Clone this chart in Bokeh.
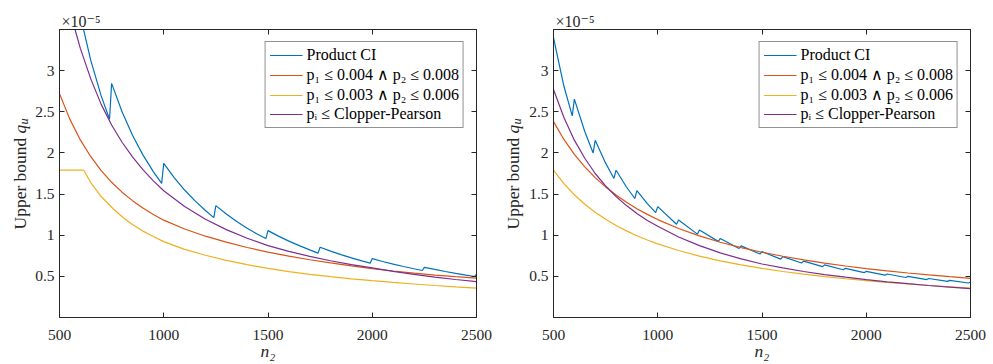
import math
from bokeh.plotting import figure
from bokeh.models import (Range1d, LinearAxis, FixedTicker, CustomJSTickFormatter,
                          Label, Legend, LegendItem, Title)
from bokeh.layouts import row, column
from bokeh.embed import file_html
from bokeh.resources import INLINE

# ---------------- data (upper bound q_u, in units of 1e-5) ----------------
N_GRID = [500, 550, 600, 650, 700, 750, 800, 850, 900, 950, 1000,
          1100, 1200, 1300, 1400, 1500, 1600, 1700, 1800, 1900, 2000,
          2100, 2200, 2300, 2400, 2500]

# Left panel
L_PROD_N = [600, 650, 700, 740, 750, 800, 850, 900, 950, 990,
            1000, 1050, 1100, 1150, 1200, 1240, 1250, 1300, 1350, 1400, 1450, 1490,
            1500, 1550, 1600, 1650, 1700, 1740, 1750, 1800, 1850, 1900, 1950, 1990,
            2000, 2050, 2100, 2150, 2200, 2240, 2250, 2300, 2350, 2400, 2450, 2490, 2500]
L_PROD_Q = [3.666, 3.124, 2.693, 2.41, 2.845, 2.50, 2.215, 1.976, 1.773, 1.63,
            1.874, 1.70, 1.549, 1.417, 1.301, 1.214, 1.36, 1.257, 1.166, 1.084, 1.011, 0.959,
            1.056, 0.989, 0.928, 0.873, 0.822, 0.782, 0.854, 0.807, 0.764, 0.724, 0.688, 0.66,
            0.716, 0.681, 0.649, 0.62, 0.592, 0.571, 0.61, 0.584, 0.559, 0.536, 0.514, 0.498, 0.527]
L_RED_Q = [2.72, 2.408, 2.158, 1.954, 1.785, 1.643, 1.523, 1.42, 1.33, 1.252, 1.183,
           1.075, 0.988, 0.916, 0.851, 0.794, 0.745, 0.702, 0.663, 0.627, 0.594,
           0.565, 0.539, 0.516, 0.496, 0.478]
L_YEL_N = [500, 616, 650, 700, 750, 800, 850, 900, 950, 1000,
           1100, 1200, 1300, 1400, 1500, 1600, 1700, 1800, 1900, 2000,
           2100, 2200, 2300, 2400, 2500]
L_YEL_Q = [1.79, 1.79, 1.64, 1.47, 1.34, 1.225, 1.13, 1.05, 0.985, 0.922,
           0.828, 0.757, 0.695, 0.642, 0.596, 0.558, 0.525, 0.496, 0.47, 0.447,
           0.426, 0.407, 0.389, 0.373, 0.358]
L_PUR_Q = [4.29, 3.72, 3.27, 2.90, 2.59, 2.34, 2.13, 1.951, 1.796, 1.66, 1.541,
           1.349, 1.194, 1.068, 0.963, 0.874, 0.804, 0.743, 0.69, 0.643, 0.602,
           0.561, 0.524, 0.491, 0.462, 0.435]

# Right panel
R_PROD_N = [500, 550, 590, 600, 650, 690, 700, 750, 790, 800, 850, 890, 900, 950, 990,
            1000, 1090, 1100, 1190, 1200, 1290, 1300, 1390, 1400, 1490, 1500, 1590,
            1600, 1690, 1700, 1790, 1800, 1890, 1900, 1990, 2000, 2090, 2100, 2190,
            2200, 2290, 2300, 2390, 2400, 2490, 2500]
R_PROD_Q = [3.40, 2.81, 2.45, 2.654, 2.261, 2.0, 2.153, 1.876, 1.69, 1.79, 1.586, 1.446,
            1.541, 1.383, 1.274, 1.347, 1.134, 1.186, 1.013, 1.064, 0.925, 0.959, 0.839,
            0.870, 0.771, 0.801, 0.709, 0.739, 0.662, 0.685, 0.618, 0.639, 0.58, 0.598,
            0.545, 0.561, 0.514, 0.529, 0.486, 0.4995, 0.461, 0.474, 0.439, 0.451, 0.419, 0.432]
R_RED_Q = [2.38, 2.164, 1.983, 1.831, 1.70, 1.587, 1.488, 1.40, 1.322, 1.253, 1.19,
           1.082, 0.992, 0.915, 0.85, 0.793, 0.744, 0.70, 0.661, 0.626, 0.595,
           0.567, 0.541, 0.517, 0.496, 0.476]
R_YEL_Q = [1.79, 1.627, 1.492, 1.377, 1.279, 1.193, 1.119, 1.053, 0.994, 0.942, 0.895,
           0.814, 0.746, 0.688, 0.639, 0.597, 0.559, 0.526, 0.497, 0.471, 0.448,
           0.426, 0.407, 0.389, 0.373, 0.358]
R_PUR_Q = [2.77, 2.43, 2.155, 1.935, 1.75, 1.60, 1.47, 1.36, 1.265, 1.18, 1.11,
           0.979, 0.873, 0.785, 0.712, 0.65, 0.602, 0.559, 0.522, 0.49, 0.46,
           0.434, 0.411, 0.389, 0.37, 0.352]

X_TICKS = [500, 1000, 1500, 2000, 2500]
Y_TICKS = [0.5, 1, 1.5, 2, 2.5, 3]
EXPONENT_TEXT = "\u00d710\u207b\u2075"
SERIES_NAMES = ["Product CI",
                "p\u2081 \u2264 0.004 \u2227 p\u2082 \u2264 0.008",
                "p\u2081 \u2264 0.003 \u2227 p\u2082 \u2264 0.006",
                "p\u1d62 \u2264 Clopper-Pearson"]
COLORS = ["#0072BD", "#D95319", "#EDB120", "#7E2F8E"]

# ---------------- styling ----------------
SERIF = "Liberation Serif, DejaVu Serif"
AX = "#262626"
FRAME_W, FRAME_H = 418, 288
TOP = 29            # above the frame (exponent title)
BOTTOM = 47         # below the frame (tick labels + n2)
TICK_BORDER = 26    # room for y tick labels left of the frame


def style_axis(ax, show_labels, standoff):
    ax.axis_line_color = AX
    ax.major_tick_line_color = AX
    ax.major_tick_in = 5
    ax.major_tick_out = 0
    ax.minor_tick_line_color = None
    if show_labels:
        ax.major_label_text_font = SERIF
        ax.major_label_text_font_size = "15.5px"
        ax.major_label_text_color = AX
        ax.major_label_standoff = standoff
    else:
        ax.formatter = CustomJSTickFormatter(code="return '';")
        ax.major_label_text_font_size = "0px"
        ax.major_label_standoff = 0


def strip(width, height):
    s = figure(width=width, height=height, x_range=Range1d(0, 1), y_range=Range1d(0, 1),
               output_backend="svg", toolbar_location=None, title=None,
               x_axis_location=None, y_axis_location=None, min_border=0,
               min_border_left=0, min_border_right=0,
               min_border_top=0, min_border_bottom=0)
    s.outline_line_color = None
    s.grid.visible = False
    s.background_fill_color = "white"
    s.border_fill_color = "white"
    return s


def lab(p, text, x, y, size, style="normal", angle=0.0, color=AX):
    p.add_layout(Label(x=x, y=y, x_units="screen", y_units="screen", text=text,
                       text_font=SERIF, text_font_size=size, text_font_style=style,
                       text_color=color, angle=angle, text_align="left",
                       text_baseline="alphabetic"))


def make_panel(series, ylab_w, right):
    main_w = TICK_BORDER + FRAME_W + right
    p = figure(width=main_w, height=TOP + FRAME_H + BOTTOM,
               x_range=Range1d(500, 2500), y_range=Range1d(0, 3.5),
               output_backend="svg", toolbar_location=None, title=None,
               x_axis_location=None, y_axis_location=None,
               min_border_left=TICK_BORDER, min_border_right=right,
               min_border_top=TOP, min_border_bottom=BOTTOM)
    p.grid.visible = False
    p.outline_line_color = AX
    p.background_fill_color = "white"
    p.border_fill_color = "white"

    fmt = CustomJSTickFormatter(code="return tick.toString();")
    axes = {}
    for loc, ticks, show, so in [("below", X_TICKS, True, 12), ("above", X_TICKS, False, 0),
                                 ("left", Y_TICKS, True, 5), ("right", Y_TICKS, False, 0)]:
        ax = LinearAxis(ticker=FixedTicker(ticks=ticks), formatter=fmt)
        style_axis(ax, show, so)
        p.add_layout(ax, loc)
        axes[loc] = ax

    # exponent marker above the frame, left aligned
    p.add_layout(Title(text=EXPONENT_TEXT, align="left", offset=2, standoff=0,
                       text_font=SERIF, text_font_size="16px", text_font_style="normal",
                       text_color=AX), "above")

    # x axis title: n_2
    xb = axes["below"]
    xb.axis_label = "n\u2082"
    xb.axis_label_text_font = SERIF
    xb.axis_label_text_font_size = "17.5px"
    xb.axis_label_text_font_style = "italic"
    xb.axis_label_text_color = AX
    xb.axis_label_standoff = -2

    items = []
    for (xs, ys), name, col in zip(series, SERIES_NAMES, COLORS):
        r = p.line(xs, ys, line_color=col, line_width=1.2)
        items.append(LegendItem(label=name, renderers=[r]))

    leg = Legend(items=items, location="top_right", margin=12,
                 border_line_color=AX, border_line_width=1,
                 background_fill_color="white", background_fill_alpha=1.0,
                 label_text_font=SERIF, label_text_font_size="16px",
                 label_text_color="black", glyph_width=33, glyph_height=18,
                 label_height=18, label_standoff=4, padding=4, spacing=1)
    p.add_layout(leg)

    # y axis title: Upper bound q_u (rotated), in its own narrow strip
    full_h = TOP + FRAME_H + BOTTOM
    ylab = strip(ylab_w, full_h)
    y0 = full_h - 229
    lab(ylab, "Upper bound ", 19, y0, "17.5px", angle=math.pi / 2)
    lab(ylab, "q", 19, y0 + 96, "17.5px", style="italic", angle=math.pi / 2)
    lab(ylab, "u", 23, y0 + 105, "12.5px", style="italic", angle=math.pi / 2)

    return row(ylab, column(p, spacing=0), spacing=0)


left_series = [(L_PROD_N, L_PROD_Q), (N_GRID, L_RED_Q), (L_YEL_N, L_YEL_Q), (N_GRID, L_PUR_Q)]
right_series = [(R_PROD_N, R_PROD_Q), (N_GRID, R_RED_Q), (N_GRID, R_YEL_Q), (N_GRID, R_PUR_Q)]

panel_l = make_panel(left_series, 32, 17)
panel_r = make_panel(right_series, 33, 23)
layout = row(panel_l, panel_r, spacing=0)

open("out.html", "w").write(file_html(layout, INLINE))
